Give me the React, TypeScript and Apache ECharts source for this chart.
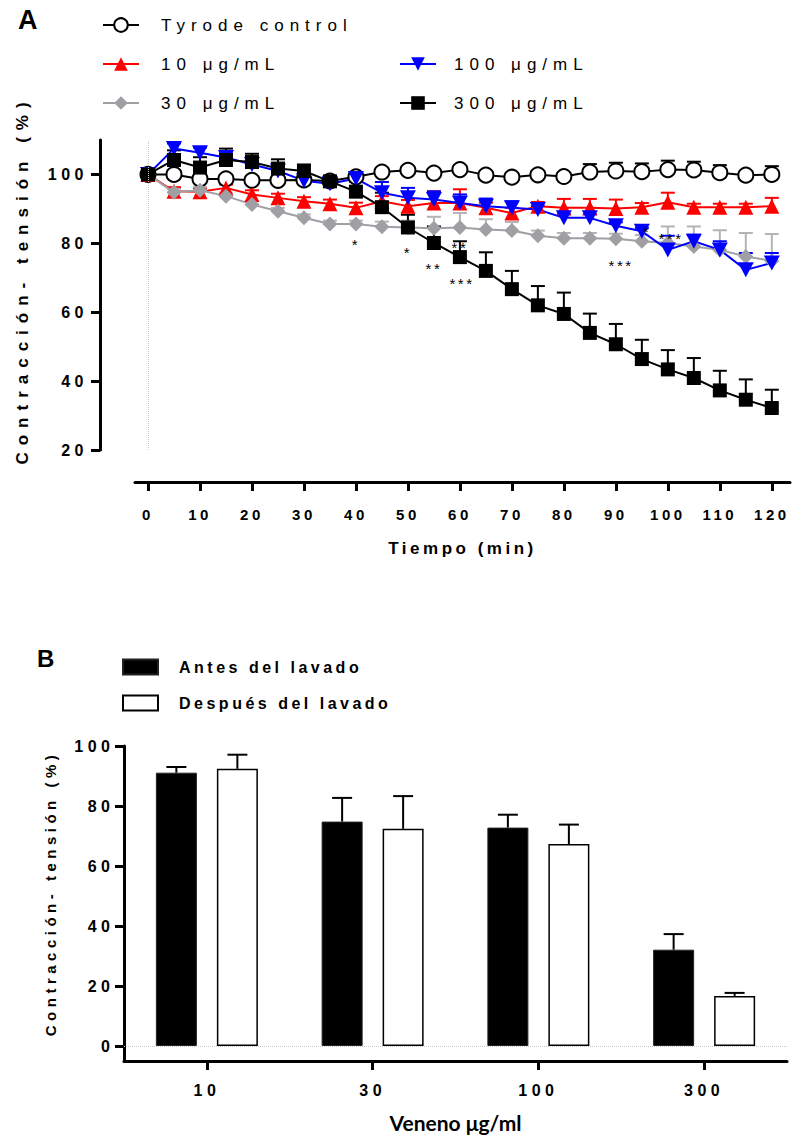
import React, { useEffect, useRef } from "react";
import * as echarts from "echarts";

const FONT = "'Liberation Sans', Arial, sans-serif";

// ---------- Panel A data ----------
const timeMin = [0, 5, 10, 15, 20, 25, 30, 35, 40, 45, 50, 55, 60, 65, 70, 75, 80, 85, 90, 95, 100, 105, 110, 115, 120];
const tyrode = [100, 100, 98.7, 98.7, 98.3, 98.3, 98.4, 98.1, 99.3, 100.7, 101.2, 100.4, 101.4, 99.8, 99.2, 99.9, 99.4, 100.7, 101.0, 100.8, 101.4, 101.3, 100.5, 99.8, 100.0];
const tyrodeErr = [0, 0.5, 0.6, 0.6, 0.7, 0.8, 0.8, 0.8, 0.8, 0.8, 0.8, 0.8, 0.8, 0.8, 0.8, 0.9, 1.0, 2.3, 2.4, 2.4, 2.6, 2.4, 2.2, 0.8, 2.4];
const dose10 = [100, 95.1, 95.0, 96.1, 94.2, 93.2, 92.2, 91.5, 90.3, 92.2, 90.8, 91.7, 91.7, 90.3, 88.8, 90.8, 90.3, 90.3, 90.1, 90.5, 91.9, 90.5, 90.5, 90.5, 90.8];
const dose10Err = [0, 1.2, 1.0, 1.0, 1.2, 1.2, 1.2, 1.2, 1.5, 1.5, 1.8, 3.4, 4.0, 1.5, 1.5, 1.2, 2.6, 2.6, 2.6, 1.2, 2.8, 1.0, 1.0, 1.0, 2.4];
const dose30 = [100, 94.8, 95.4, 93.7, 91.3, 89.3, 87.4, 85.6, 85.6, 84.8, 84.6, 84.4, 84.6, 84.0, 83.7, 82.2, 81.5, 81.5, 81.3, 80.6, 80.1, 79.1, 78.1, 76.2, 74.9];
const dose30Err = [0, 1.0, 1.0, 1.0, 1.0, 1.0, 1.0, 1.0, 1.0, 1.5, 2.0, 3.3, 4.2, 3.0, 2.5, 1.5, 1.5, 1.5, 1.5, 1.8, 4.8, 5.8, 5.7, 6.8, 7.8];
const dose100 = [100, 107.5, 106.3, 104.9, 102.9, 101.0, 98.2, 97.3, 98.8, 94.7, 93.2, 92.7, 91.7, 90.8, 90.3, 89.8, 87.4, 87.4, 85.1, 83.5, 78.1, 80.6, 78.1, 72.3, 74.3];
const dose100Err = [0, 1.5, 1.5, 1.2, 1.0, 1.0, 1.0, 1.2, 1.6, 3.1, 2.9, 2.4, 2.5, 2.2, 1.9, 1.0, 1.0, 1.0, 1.0, 1.0, 4.1, 1.9, 2.5, 4.9, 2.9];
const dose300 = [100, 104.2, 102.0, 104.2, 103.6, 101.7, 101.0, 98.0, 95.0, 90.5, 84.6, 80.1, 76.0, 72.0, 66.7, 62.0, 59.5, 54.0, 50.7, 46.4, 43.4, 40.9, 37.3, 34.6, 32.2];
const dose300Err = [0, 2.8, 3.0, 3.3, 2.4, 2.7, 1.9, 1.5, 2.9, 4.2, 3.7, 4.8, 4.6, 5.4, 5.3, 5.6, 6.2, 5.6, 5.9, 5.6, 5.6, 5.8, 5.7, 5.9, 5.3];
const xTicksA = [0, 10, 20, 30, 40, 50, 60, 70, 80, 90, 100, 110, 120];
const yTicksA = [20, 40, 60, 80, 100];
// significance marks: [time, value, text]
const annotations: [number, number, string][] = [
  [40, 79.8, "*"],
  [50, 77.2, "*"],
  [55, 72.8, "**"],
  [60, 78.9, "**"],
  [60.4, 68.4, "***"],
  [91, 73.7, "***"],
  [96, 83.5, "*"],
  [100.6, 81.5, "***"],
];

// ---------- Panel B data ----------
const doses = ["10", "30", "100", "300"];
const antes = [91.1, 74.8, 72.8, 32.1];
const antesErr = [1.9, 7.9, 4.3, 5.2];
const despues = [92.4, 72.4, 67.3, 16.7];
const despuesErr = [4.7, 10.9, 6.5, 1.0];
const yTicksB = [0, 20, 40, 60, 80, 100];

const BAR_W = 41;
const BAR_GAP = 20;
const BAR_OFFSET = (BAR_W + BAR_GAP) / 2;

const DOTTED = { type: "dotted", color: "#c8c8c8", width: 1, opacity: 1 };

const groupsA = [
  { name: "Tyrode control", values: tyrode, err: tyrodeErr, color: "#000000", fill: "#ffffff", errColor: "#000000", symbol: "circle", size: 15, border: 2 },
  { name: "10 μg/mL", values: dose10, err: dose10Err, color: "#ff0000", fill: "#ff0000", errColor: "#ff0000", symbol: "triangle", size: 15, border: 0 },
  { name: "30 μg/mL", values: dose30, err: dose30Err, color: "#a0a0a4", fill: "#a0a0a4", errColor: "#b4b4b8", symbol: "diamond", size: 15, border: 0 },
  { name: "100 μg/mL", values: dose100, err: dose100Err, color: "#0000ff", fill: "#0000ff", errColor: "#0000ff", symbol: "path://M0,0L10,0L5,9Z", size: [16, 15], border: 0 },
  { name: "300 μg/mL", values: dose300, err: dose300Err, color: "#000000", fill: "#000000", errColor: "#000000", symbol: "rect", size: 14, border: 0 },
];

function spacingFor(t: string, top: number): number {
  const isA = top < 600;
  if (t === "A" || t === "B" || t.startsWith("Veneno")) return 0;
  if (/^\*+$/.test(t)) return 2.5;
  if (/^\d+$/.test(t)) return isA ? (top > 495 ? 3.5 : 4.5) : 4.5;
  if (t.startsWith("Tyrode") || t.includes("g/mL")) return 6;
  if (t.startsWith("Contracci")) return isA ? 7 : 4.5;
  if (t.startsWith("Tiempo")) return 3.5;
  if (t.startsWith("Antes") || t.startsWith("Despu")) return 3.5;
  return 0;
}

export default function App() {
  const ref = useRef<HTMLDivElement | null>(null);

  useEffect(() => {
    document.body.style.margin = "0";
    const el = ref.current;
    if (!el) return;
    const chart = echarts.init(el, null, { renderer: "svg" });

    const axisCommon = {
      axisLine: { show: true, onZero: false, lineStyle: { color: "#000", width: 3 } },
      axisTick: { show: true, length: 9, inside: false, lineStyle: { color: "#000", width: 3 } },
      splitLine: { show: false },
    };

    const lineSeries = groupsA.map((g) => ({
      type: "line",
      name: g.name,
      xAxisIndex: 0,
      yAxisIndex: 0,
      data: timeMin.map((t, i) => [t, g.values[i]]),
      symbol: g.symbol,
      symbolSize: g.size,
      itemStyle: { color: g.fill, borderColor: g.color, borderWidth: g.border },
      lineStyle: { color: g.color, width: 2 },
      z: 3,
      silent: true,
    }));

    const errSeriesA = groupsA.map((g) => ({
      type: "custom",
      name: g.name + " err",
      xAxisIndex: 0,
      yAxisIndex: 0,
      z: 2,
      silent: true,
      data: timeMin
        .map((t, i) => [t, g.values[i], g.values[i] + g.err[i]])
        .filter((d) => d[2] > d[1]),
      renderItem: (_p: any, api: any) => {
        const a = api.coord([api.value(0), api.value(1)]);
        const b = api.coord([api.value(0), api.value(2)]);
        const hw = 7;
        return {
          type: "group",
          children: [
            { type: "line", shape: { x1: a[0], y1: a[1], x2: b[0], y2: b[1] }, style: { stroke: g.errColor, lineWidth: 2 } },
            { type: "line", shape: { x1: b[0] - hw, y1: b[1], x2: b[0] + hw, y2: b[1] }, style: { stroke: g.errColor, lineWidth: 2 } },
          ],
        };
      },
    }));

    // faint dotted reference lines (x = 0 in A, y = 0 in B), drawn under everything
    const refLine = (xi: number, item: any) => ({
      type: "line",
      name: "ref" + xi,
      xAxisIndex: xi,
      yAxisIndex: xi,
      z: 0,
      silent: true,
      data: [],
      itemStyle: { color: "#c8c8c8" },
      lineStyle: { color: "#c8c8c8" },
      markLine: {
        silent: true,
        symbol: ["none", "none"],
        label: { show: false },
        lineStyle: DOTTED,
        emphasis: { disabled: true },
        data: [{ ...item, lineStyle: DOTTED }],
      },
    });

    const annotationSeries = {
      type: "custom",
      name: "signif",
      xAxisIndex: 0,
      yAxisIndex: 0,
      z: 6,
      silent: true,
      data: annotations.map((a) => [a[0], a[1]]),
      renderItem: (p: any, api: any) => {
        const pt = api.coord([api.value(0), api.value(1)]);
        return {
          type: "text",
          x: pt[0],
          y: pt[1],
          style: {
            text: annotations[p.dataIndex][2],
            fill: "#000000",
            font: "15px " + FONT,
            align: "center",
            verticalAlign: "middle",
          },
        };
      },
    };

    const barErr = (vals: number[], errs: number[], side: number) => ({
      type: "custom",
      xAxisIndex: 1,
      yAxisIndex: 1,
      z: 4,
      silent: true,
      data: vals.map((v, i) => [i, v, v + errs[i]]),
      renderItem: (_p: any, api: any) => {
        const a = api.coord([api.value(0), api.value(1)]);
        const b = api.coord([api.value(0), api.value(2)]);
        const x = a[0] + side * BAR_OFFSET;
        const hw = 10;
        return {
          type: "group",
          children: [
            { type: "line", shape: { x1: x, y1: a[1], x2: x, y2: b[1] }, style: { stroke: "#000", lineWidth: 2 } },
            { type: "line", shape: { x1: x - hw, y1: b[1], x2: x + hw, y2: b[1] }, style: { stroke: "#000", lineWidth: 2 } },
          ],
        };
      },
    });

    const legendTextA = { fontSize: 17, fontFamily: FONT, color: "#000", lineHeight: 20 };

    const option: any = {
      animation: false,
      backgroundColor: "#ffffff",
      textStyle: { fontFamily: FONT, color: "#000" },
      title: [
        { text: "A", left: 18, top: 6, padding: 0, textStyle: { fontSize: 27, fontWeight: "bold", fontFamily: FONT, color: "#000" } },
        { text: "B", left: 37, top: 646, padding: 0, textStyle: { fontSize: 24, fontWeight: "bold", fontFamily: FONT, color: "#000" } },
      ],
      legend: [
        {
          data: ["Tyrode control", "10 μg/mL", "30 μg/mL"],
          orient: "vertical",
          left: 102,
          top: 15,
          padding: 0,
          itemWidth: 36,
          itemHeight: 17,
          itemGap: 19,
          selectedMode: false,
          textStyle: { ...legendTextA, padding: [0, 0, 0, 17] },
        },
        {
          data: ["100 μg/mL", "300 μg/mL"],
          orient: "vertical",
          left: 399,
          top: 54,
          padding: 0,
          itemWidth: 36,
          itemHeight: 17,
          itemGap: 19,
          selectedMode: false,
          textStyle: { ...legendTextA, padding: [0, 0, 0, 13] },
        },
        {
          data: ["Antes del lavado", "Después del lavado"],
          orient: "vertical",
          left: 122,
          top: 657,
          padding: 0,
          icon: "rect",
          itemWidth: 35,
          itemHeight: 15,
          itemGap: 16,
          selectedMode: false,
          textStyle: { fontSize: 16, fontWeight: "bold", fontFamily: FONT, color: "#000", lineHeight: 20, padding: [0, 0, 0, 16] },
        },
      ],
      grid: [
        { left: 135, right: 12, top: 140, bottom: 692, containLabel: false, outerBoundsMode: "none" },
        { left: 124, right: 15, top: 746, bottom: 81, containLabel: false, outerBoundsMode: "none" },
      ],
      xAxis: [
        {
          type: "value",
          gridIndex: 0,
          min: -2.5,
          max: 123.5,
          offset: 32,
          ...axisCommon,
          axisTick: { ...axisCommon.axisTick, customValues: xTicksA },
          axisLabel: { customValues: xTicksA, margin: 25, fontSize: 15, fontWeight: "bold", color: "#000", fontFamily: FONT },
          name: "Tiempo (min)",
          nameLocation: "middle",
          nameGap: 58,
          nameTextStyle: { fontSize: 17, fontWeight: "bold", color: "#000", fontFamily: FONT },
        },
        {
          type: "category",
          gridIndex: 1,
          data: doses,
          ...axisCommon,
          axisTick: { ...axisCommon.axisTick, alignWithLabel: true },
          axisLabel: { margin: 21, fontSize: 16, fontWeight: "bold", color: "#000", fontFamily: FONT },
          name: "Veneno μg/ml",
          nameLocation: "middle",
          nameGap: 51,
          nameTextStyle: { fontSize: 21, fontWeight: "bold", color: "#000", fontFamily: "Lato, 'Open Sans', sans-serif" },
        },
      ],
      yAxis: [
        {
          type: "value",
          gridIndex: 0,
          min: 20,
          max: 110,
          offset: 35,
          ...axisCommon,
          axisTick: { ...axisCommon.axisTick, customValues: yTicksA },
          axisLabel: { customValues: yTicksA, margin: 12, fontSize: 16, fontWeight: "bold", color: "#000", fontFamily: FONT },
          name: "Contracción- tensión (%)",
          nameLocation: "middle",
          nameGap: 69,
          nameTextStyle: { fontSize: 17, fontWeight: "bold", color: "#000", fontFamily: FONT, padding: [0, 0, 0, 30] },
        },
        {
          type: "value",
          gridIndex: 1,
          min: -5,
          max: 100,
          ...axisCommon,
          axisTick: { ...axisCommon.axisTick, customValues: yTicksB },
          axisLabel: { customValues: yTicksB, margin: 9.5, fontSize: 16, fontWeight: "bold", color: "#000", fontFamily: FONT },
          name: "Contracción- tensión (%)",
          nameLocation: "middle",
          nameGap: 66,
          nameTextStyle: { fontSize: 15, fontWeight: "bold", color: "#000", fontFamily: FONT, padding: [0, 0, 0, 20] },
        },
      ],
      series: [
        refLine(0, { xAxis: 0 }),
        refLine(1, { yAxis: 0 }),
        ...errSeriesA,
        ...lineSeries,
        annotationSeries,
        {
          type: "bar",
          name: "Antes del lavado",
          xAxisIndex: 1,
          yAxisIndex: 1,
          data: antes,
          barWidth: BAR_W,
          barGap: (BAR_GAP / BAR_W) * 100 + "%",
          silent: true,
          z: 3,
          itemStyle: { color: "#000000", borderColor: "#222", borderWidth: 1 },
        },
        {
          type: "bar",
          name: "Después del lavado",
          xAxisIndex: 1,
          yAxisIndex: 1,
          data: despues,
          barWidth: BAR_W,
          silent: true,
          z: 3,
          itemStyle: { color: "#ffffff", borderColor: "#000", borderWidth: 1.5 },
        },
        barErr(antes, antesErr, -1),
        barErr(despues, despuesErr, 1),
      ],
    };

    const applySpacing = () => {
      const root = ref.current;
      if (!root) return;
      root.querySelectorAll("text").forEach((node) => {
        const t = (node.textContent || "").trim();
        const r = node.getBoundingClientRect();
        const s = spacingFor(t, r.top);
        (node as SVGTextElement).style.letterSpacing = s ? s + "px" : "";
      });
    };

    chart.on("rendered", applySpacing);
    chart.setOption(option);
    applySpacing();

    return () => {
      chart.dispose();
    };
  }, []);

  return (
    <div
      ref={ref}
      style={{ position: "absolute", left: 0, top: 0, width: 802, height: 1142, background: "#fff" }}
    />
  );
}
